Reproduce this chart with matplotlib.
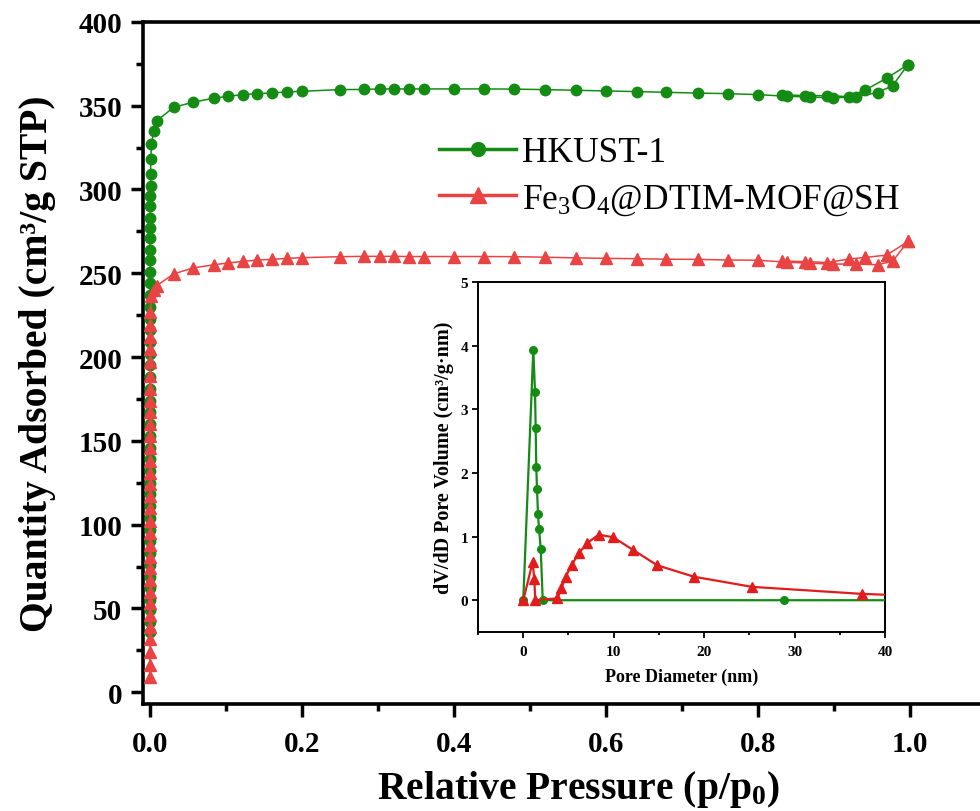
import matplotlib
matplotlib.use('Agg')
import matplotlib.pyplot as plt
from matplotlib.lines import Line2D
from matplotlib.ticker import MultipleLocator

plt.rcParams['font.family'] = ['Liberation Serif', 'DejaVu Serif']
plt.rcParams['mathtext.fontset'] = 'custom'
plt.rcParams['mathtext.rm'] = 'Liberation Serif'
plt.rcParams['mathtext.it'] = 'Liberation Serif:italic'
plt.rcParams['mathtext.bf'] = 'Liberation Serif:bold'

GREEN = '#148c14'
RED = '#e94343'
RED_IN = '#e21c1c'

# --- N2 isotherm, HKUST-1 (adsorption then desorption) ---
hk_ads_p = [0.00001, 0.00002, 0.00003, 0.00004, 0.00005, 0.00006, 0.00007, 0.00008,
            0.00009, 0.0001, 0.00011, 0.00012, 0.00013, 0.00014, 0.00015, 0.00016,
            0.00017, 0.00018, 0.00019, 0.0002, 0.00021, 0.00022, 0.00023, 0.00024,
            0.00025, 0.00026, 0.00027, 0.00028, 0.00029, 0.0003, 0.00032, 0.00034,
            0.00036, 0.00038, 0.0004, 0.00042, 0.00045, 0.0005, 0.0006, 0.0007,
            0.0008, 0.001, 0.002, 0.005, 0.009, 0.031, 0.056, 0.084, 0.102, 0.122,
            0.141, 0.16, 0.18, 0.2, 0.25, 0.282, 0.303, 0.321, 0.341, 0.361, 0.40,
            0.44, 0.479, 0.519, 0.56, 0.60, 0.64, 0.679, 0.721, 0.760, 0.800, 0.838,
            0.868, 0.898, 0.929, 0.957, 0.977, 0.997]
hk_ads_q = [36, 42, 49, 55, 62, 69, 76, 83, 90, 97, 104, 111, 118, 125, 132, 139,
            146, 153, 160, 167, 174, 181, 188, 195, 202, 209, 216, 223, 230, 237,
            244, 251, 258, 264, 271, 277, 283, 290, 296, 302, 309, 318, 327, 335,
            341, 349, 352, 354.5, 355.6, 356.6, 357.2, 357.6, 358.2, 358.6, 359.6,
            359.7, 360, 360, 360, 360, 360, 360, 359.9, 359.6, 359.2, 358.8, 358.4,
            358.0, 357.5, 357.2, 356.6, 355.6, 355.2, 354.6, 355.4, 357.8, 362, 374.5]
hk_des_p = [0.997, 0.969, 0.941, 0.920, 0.890, 0.861, 0.831]
hk_des_q = [374.5, 366.4, 359.4, 355.4, 356.0, 356.0, 356.6]

# --- N2 isotherm, Fe3O4@DTIM-MOF@SH ---
fe_ads_p = [0.00001, 0.00002, 0.00003, 0.00004, 0.00005, 0.00006, 0.00007, 0.00008,
            0.00009, 0.0001, 0.00011, 0.00012, 0.00013, 0.00014, 0.00015, 0.00016,
            0.00017, 0.00018, 0.00019, 0.0002, 0.00021, 0.00022, 0.00023, 0.00024,
            0.00025, 0.00026, 0.00027, 0.00028, 0.00029, 0.0003, 0.00032, 0.002,
            0.005, 0.009, 0.031, 0.056, 0.084, 0.102, 0.122, 0.141, 0.16, 0.18, 0.2,
            0.25, 0.282, 0.303, 0.321, 0.341, 0.361, 0.40, 0.44, 0.479, 0.519, 0.56,
            0.60, 0.64, 0.679, 0.721, 0.760, 0.800, 0.838, 0.868, 0.898, 0.929,
            0.957, 0.977, 0.997]
fe_ads_q = [8.8, 16, 24, 32, 39, 46, 53, 60, 67, 74, 81, 88, 95, 102, 110, 117, 124,
            131, 138, 146, 153, 160, 167, 174, 181, 189, 197, 205, 212, 219, 227,
            236.6, 240, 242.6, 249.6, 253.1, 255.1, 256.1, 257.1, 257.9, 258.3,
            258.9, 259.3, 259.9, 260.1, 260.1, 260.1, 260.0, 260.0, 260.0, 260.0,
            259.9, 259.6, 259.2, 258.9, 258.7, 258.4, 258.3, 257.9, 257.8, 256.6,
            256.0, 255.5, 255.5, 255.1, 257.2, 269.0]
fe_des_p = [0.997, 0.969, 0.941, 0.920, 0.890, 0.861, 0.831]
fe_des_q = [269.0, 260.8, 259.5, 258.5, 256.4, 257.0, 257.3]

# --- pore size distribution (inset) ---
hk_d = [0.0, 1.11, 1.3, 1.37, 1.44, 1.52, 1.63, 1.74, 1.93, 2.15, 28.8, 45.0]
hk_v = [0.0, 3.94, 3.27, 2.71, 2.09, 1.75, 1.35, 1.12, 0.81, 0.0, 0.0, 0.0]
fe_d = [0.0, 1.04, 1.22, 1.33, 3.78, 4.22, 4.7, 5.37, 6.15, 7.1, 8.33, 9.93, 12.15,
        14.8, 18.85, 25.3, 37.4, 45.0]
fe_v = [0.0, 0.60, 0.33, 0.0, 0.03, 0.19, 0.37, 0.56, 0.74, 0.90, 1.03, 0.99, 0.79,
        0.55, 0.37, 0.21, 0.10, 0.06]

fig = plt.figure(figsize=(9.8, 8.12), dpi=100)
# right spine of the main frame sits outside the picture, as in the source figure
ax = fig.add_axes([0.1459, 0.1318, 0.888, 0.840])

ax.plot(hk_ads_p, hk_ads_q, color=GREEN, lw=1.1, marker='o', ms=7.5, mec=GREEN, zorder=3)
ax.plot(hk_des_p, hk_des_q, color=GREEN, lw=1.1, marker='o', ms=7.5, mec=GREEN, zorder=3)
ax.plot(fe_ads_p, fe_ads_q, color=RED, lw=1.1, marker='^', ms=8.5, mec=RED, zorder=4)
ax.plot(fe_des_p, fe_des_q, color=RED, lw=1.1, marker='^', ms=8.5, mec=RED, zorder=4)

ax.set_xlim(-0.0092, 1.1355)
ax.set_ylim(-7, 400)
ax.xaxis.set_minor_locator(MultipleLocator(0.1))
ax.yaxis.set_major_locator(MultipleLocator(50))
ax.yaxis.set_minor_locator(MultipleLocator(25))
ax.set_xticks([0, 0.2, 0.4, 0.6, 0.8, 1.0])
ax.set_xticklabels(['0.0', '0.2', '0.4', '0.6', '0.8', '1.0'])
ax.tick_params(which='major', direction='out', length=9, width=2.5, labelsize=21, pad=6)
ax.tick_params(axis='x', which='major', pad=10)
ax.tick_params(which='minor', direction='out', length=5, width=2.5)
for lbl in ax.get_xticklabels() + ax.get_yticklabels():
    lbl.set_fontweight('bold')
for s in ['left', 'bottom', 'top']:
    ax.spines[s].set_linewidth(2.6)
ax.spines['right'].set_visible(False)

ax.set_xlabel(r'Relative Pressure (p/p$_\mathbf{0}$)', fontsize=28.5, fontweight='bold', labelpad=8)
ax.set_ylabel('Quantity Adsorbed (cm³/g STP)', fontsize=28.5, fontweight='bold', labelpad=16)

handles = [Line2D([], [], color=GREEN, lw=2.5, marker='o', ms=10),
           Line2D([], [], color=RED, lw=2.5, marker='^', ms=11)]
fig.legend(handles, ['HKUST-1', r'Fe$_3$O$_4$@DTIM-MOF@SH'], loc='upper left',
           bbox_to_anchor=(0.415, 0.87), frameon=False, fontsize=25.5,
           handlelength=2.2, handletextpad=0.15, labelspacing=0.36)

# --- inset: pore size distribution ---
ins = fig.add_axes([0.4878, 0.2204, 0.4153, 0.431])
ins.plot(hk_d, hk_v, color=GREEN, lw=1.6, marker='o', ms=5.5, zorder=3)
ins.plot(fe_d, fe_v, color=RED_IN, lw=1.6, marker='^', ms=6.5, zorder=4)
ins.set_xlim(-5, 40)
ins.set_ylim(-0.5, 5)
ins.xaxis.set_major_locator(MultipleLocator(10))
ins.xaxis.set_minor_locator(MultipleLocator(5))
ins.yaxis.set_major_locator(MultipleLocator(1))
ins.tick_params(which='major', direction='out', length=4, width=1.3, labelsize=11, pad=3)
ins.tick_params(axis='x', which='major', pad=5)
ins.tick_params(which='minor', direction='out', length=2.5, width=1.3)
for lbl in ins.get_xticklabels() + ins.get_yticklabels():
    lbl.set_fontweight('bold')
for s in ins.spines.values():
    s.set_linewidth(1.4)
ins.set_xlabel('Pore Diameter (nm)', fontsize=13, fontweight='bold', labelpad=7)
ins.set_ylabel('dV/dD Pore Volume (cm³/g·nm)', fontsize=14.5, fontweight='bold', labelpad=5)

fig.savefig('out.png', dpi=100)
